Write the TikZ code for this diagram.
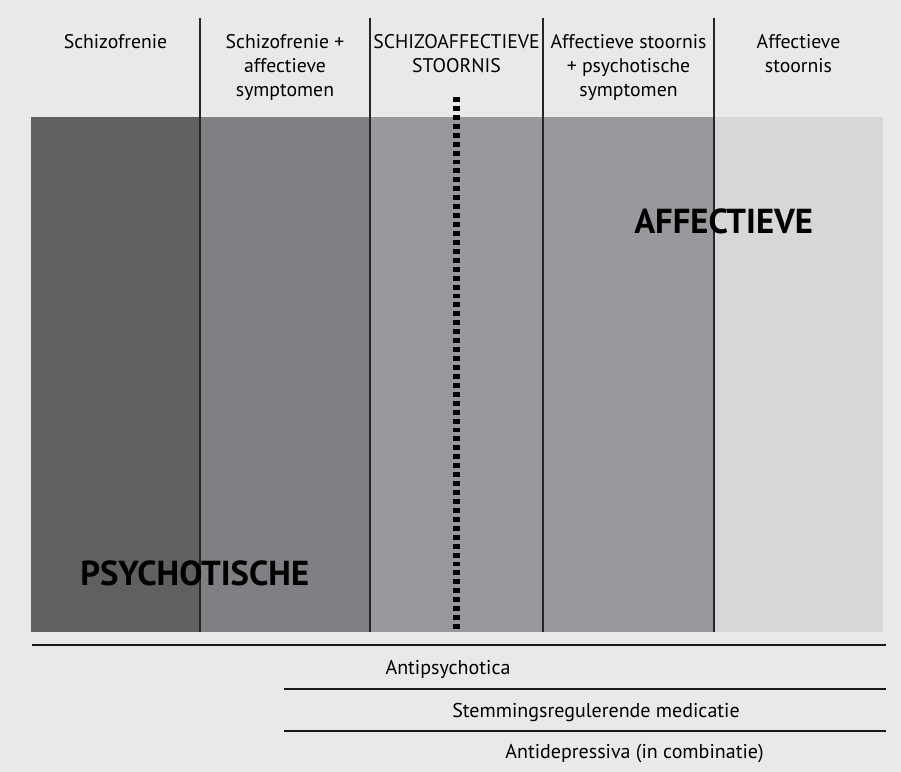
\documentclass[tikz,border=0pt]{standalone}
\usepackage{fontspec}
\setmainfont{PT Sans}
\usetikzlibrary{positioning,calc}
\definecolor{bg}{HTML}{E9E9E9}
\definecolor{c1}{HTML}{5F6062}
\definecolor{c2}{HTML}{7F8083}
\definecolor{c3}{HTML}{98999C}
\definecolor{c4}{HTML}{98999C}
\definecolor{c5}{HTML}{D6D7D9}
\tikzset{hd/.style={anchor=north,align=center,inner sep=0pt,font=\fontsize{14.8}{18}\selectfont},
 big/.style={anchor=base west,inner sep=0pt,font=\bfseries\fontsize{26}{26}\selectfont},
 med/.style={anchor=base,inner sep=0pt,font=\fontsize{15}{18}\selectfont},
 sep/.style={draw=black!85,line width=.9pt},
 rule/.style={draw=black!90,line width=1.5pt},
 dots/.style={line width=5.2pt,dash pattern=on 3.7pt off 3pt}}
\begin{document}
\begin{tikzpicture}[x=.75pt,y=-.75pt]
\fill[bg] (0,0) rectangle (901,772);
% grey bands, one per column
\foreach \a/\b/\c in {31/200/c1,200/370/c2,370/543/c3,543/714/c4,714/883/c5}
 \fill[\c] (\a,117) rectangle (\b,632);
\foreach \x in {200,370,543,714}{\draw[sep](\x,18)--(\x,632);}
\draw[dots] (456.7,97)--(456.7,632);
% column heads
\node[hd] (h1) at (115.5,34){Schizofrenie};
\node[hd] (h2) at (285,34){Schizofrenie +\\affectieve\\symptomen};
\node[hd] (h3) at (456.5,34){SCHIZOAFFECTIEVE\\STOORNIS};
\node[hd] (h4) at (628.5,34){Affectieve stoornis\\+ psychotische\\symptomen};
\node[hd] (h5) at (798.5,34){Affectieve\\stoornis};
\node[big] (psy) at (80,585){PSYCHOTISCHE};
\node[big] (aff) at (634,233){AFFECTIEVE};
% medication rules
\coordinate (r1) at (32,645);\coordinate (r1e) at (886,645);
\coordinate (r2) at (284,689);\coordinate (r2e) at (886,689);
\coordinate (r3) at (284,731);\coordinate (r3e) at (886,731);
\draw[rule](r1)--(r1e);\draw[rule](r2)--(r2e);\draw[rule](r3)--(r3e);
\node[med] (m1) at (448,674){Antipsychotica};
\node[med] (m2) at (596,717){Stemmingsregulerende medicatie};
\node[med] (m3) at (634.5,758){Antidepressiva (in combinatie)};
\end{tikzpicture}
\end{document}
